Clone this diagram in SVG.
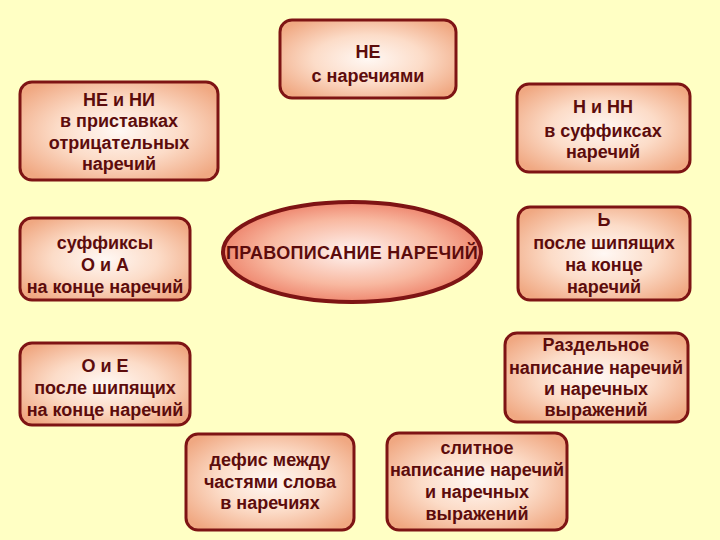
<svg xmlns="http://www.w3.org/2000/svg" width="720" height="540" viewBox="0 0 720 540">
<defs>
<radialGradient id="gBox" cx="50%" cy="50%" r="62%">
<stop offset="0" stop-color="#fff8f4"/>
<stop offset="0.5" stop-color="#fcdcc8"/>
<stop offset="1" stop-color="#f0a882"/>
</radialGradient>
<radialGradient id="gEll" cx="50%" cy="50%" r="55%">
<stop offset="0" stop-color="#fff4f2"/>
<stop offset="0.6" stop-color="#f8b8a0"/>
<stop offset="1" stop-color="#ec7a62"/>
</radialGradient>
</defs>
<style>
.box{fill:url(#gBox);stroke:#7e1414;stroke-width:3}
.ell{fill:url(#gEll);stroke:#7e1414;stroke-width:4}
text{font-family:"Liberation Sans",Arial,sans-serif;font-weight:bold;font-size:18px;fill:#5c0c0c;text-anchor:middle;dominant-baseline:central}
</style>
<rect width="720" height="540" fill="#ffffc4"/>
<g id="connectors"></g>
<g id="n-ne">
<rect class="box" x="280" y="20" width="176" height="78" rx="12"/>
<text x="368" y="52">НЕ</text>
<text x="368" y="76">с наречиями</text>
</g>
<g id="n-neni">
<rect class="box" x="20" y="82" width="198" height="98" rx="12"/>
<text x="119" y="100">НЕ и НИ</text>
<text x="119" y="121">в приставках</text>
<text x="119" y="143">отрицательных</text>
<text x="119" y="164">наречий</text>
</g>
<g id="n-nnn">
<rect class="box" x="517" y="84" width="173" height="88" rx="12"/>
<text x="603" y="107">Н и НН</text>
<text x="603" y="131">в суффиксах</text>
<text x="603" y="152">наречий</text>
</g>
<g id="n-center">
<ellipse class="ell" cx="352" cy="252" rx="129" ry="50"/>
<text x="352" y="253" style="letter-spacing:0.3px">ПРАВОПИСАНИЕ НАРЕЧИЙ</text>
</g>
<g id="n-oa">
<rect class="box" x="20" y="218" width="170" height="82" rx="12"/>
<text x="105" y="243">суффиксы</text>
<text x="105" y="265">О и А</text>
<text x="105" y="287">на конце наречий</text>
</g>
<g id="n-soft">
<rect class="box" x="518" y="207" width="172" height="93" rx="12"/>
<text x="604" y="220">Ь</text>
<text x="604" y="243">после шипящих</text>
<text x="604" y="265">на конце</text>
<text x="604" y="287">наречий</text>
</g>
<g id="n-oe">
<rect class="box" x="20" y="343" width="170" height="82" rx="12"/>
<text x="105" y="366">О и Е</text>
<text x="105" y="388">после шипящих</text>
<text x="105" y="410">на конце наречий</text>
</g>
<g id="n-sep">
<rect class="box" x="505" y="333" width="183" height="89" rx="12"/>
<text x="596" y="345">Раздельное</text>
<text x="596" y="368">написание наречий</text>
<text x="596" y="389">и наречных</text>
<text x="596" y="410">выражений</text>
</g>
<g id="n-hyph">
<rect class="box" x="186" y="434" width="168" height="96" rx="12"/>
<text x="270" y="460">дефис между</text>
<text x="270" y="482">частями слова</text>
<text x="270" y="503">в наречиях</text>
</g>
<g id="n-joint">
<rect class="box" x="387" y="433" width="180" height="97" rx="12"/>
<text x="477" y="448">слитное</text>
<text x="477" y="470">написание наречий</text>
<text x="477" y="492">и наречных</text>
<text x="477" y="514">выражений</text>
</g>
</svg>
